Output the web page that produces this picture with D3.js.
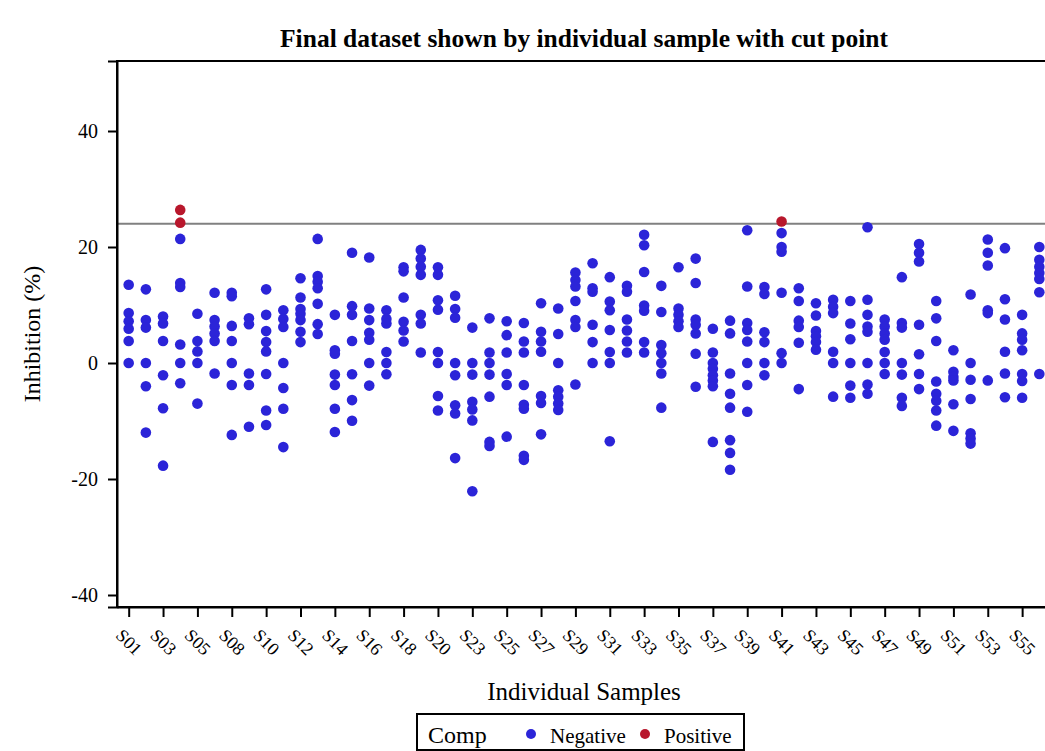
<!DOCTYPE html>
<html>
<head>
<meta charset="utf-8">
<script src="https://cdn.jsdelivr.net/npm/d3@7"></script>
<style>
  html, body { margin: 0; padding: 0; background: #fff; overflow: hidden; }
  svg { display: block; font-family: "Liberation Serif", "Times New Roman", serif; }
</style>
</head>
<body>
<svg id="chart" width="1170" height="751"></svg>
<script>
// Samples on the x axis (one column of replicate measurements each)
const samples = [
  "S01","S02","S03","S04","S05","S06","S08","S09","S10","S11","S12","S13","S14","S15",
  "S16","S17","S18","S19","S20","S21","S23","S24","S25","S26","S27","S28","S29","S30",
  "S31","S32","S33","S34","S35","S36","S37","S38","S39","S40","S41","S42","S43","S44",
  "S45","S46","S47","S48","S49","S50","S51","S52","S53","S54","S55","S56"
];

// Inhibition (%) replicates per sample, same order as `samples`
const inhibition = [
  [13.5, 8.6, 7.2, 5.9, 3.8, 0],
  [12.7, 7.4, 6.1, 0, -4.0, -12.0],
  [8.0, 6.8, 3.8, -2.1, -7.8, -17.7],
  [26.4, 24.2, 21.4, 13.8, 13.1, 3.2, 0, -3.5],
  [8.5, 3.8, 2.0, 0, -7.0],
  [12.1, 7.4, 6.3, 5.1, 3.8, -1.8],
  [12.1, 11.5, 6.4, 3.8, 0, -3.8, -12.4],
  [7.7, 6.7, -1.8, -3.8, -11.0],
  [12.7, 8.3, 5.5, 3.6, 2.0, -1.9, -8.2, -10.7],
  [9.1, 7.6, 6.2, 0, -4.3, -7.9, -14.5],
  [14.6, 11.3, 9.3, 8.5, 7.4, 5.4, 3.6],
  [21.4, 15.0, 14.0, 12.9, 10.2, 6.7, 5.0],
  [8.3, 2.2, 1.6, -2.0, -3.8, -7.9, -11.9],
  [19.0, 9.8, 8.3, 3.8, -1.95, -6.4, -9.95],
  [18.2, 9.4, 7.4, 5.2, 4.0, 0, -3.9],
  [9.1, 7.6, 6.8, 1.9, 0, -1.95],
  [16.5, 15.8, 11.3, 7.1, 5.6, 3.7],
  [19.5, 18.0, 16.6, 15.2, 8.3, 6.8, 1.8],
  [16.5, 15.2, 10.8, 9.2, 1.9, 0, -5.7, -8.2],
  [11.6, 9.3, 7.8, 0, -2.1, -7.3, -8.7, -16.4],
  [6.1, 0, -2.0, -6.7, -8.0, -9.9, -22.1],
  [7.7, 1.8, 0, -2.0, -5.8, -13.6, -14.3],
  [7.2, 4.8, 1.8, -1.9, -3.8, -12.7],
  [6.9, 3.7, 1.8, -3.8, -7.2, -7.9, -16.0, -16.7],
  [10.3, 5.4, 3.7, 1.95, -5.7, -6.9, -12.3],
  [9.4, 5.0, 0, -4.7, -5.8, -7.0, -8.1],
  [15.6, 14.3, 13.2, 10.7, 7.4, 6.2, -3.7],
  [17.2, 12.9, 12.3, 6.6, 3.6, 0],
  [14.8, 10.6, 9.1, 5.7, 1.9, 0, -13.5],
  [13.3, 12.3, 7.5, 5.6, 3.7, 1.8],
  [22.1, 20.3, 15.7, 9.9, 9.0, 3.6, 1.8],
  [13.3, 8.8, 3.1, 1.7, 0, -1.8, -7.7],
  [16.5, 9.4, 8.3, 7.2, 6.2],
  [18.0, 13.8, 7.5, 6.6, 5.1, 1.6, -4.1],
  [5.9, 1.8, 0, -1.0, -2.1, -3.0, -4.0, -13.6],
  [7.3, 5.1, -1.8, -5.3, -7.7, -13.3, -15.5, -18.4],
  [22.9, 13.2, 6.9, 5.7, 3.7, 0, -3.8, -8.4],
  [13.1, 11.9, 5.3, 3.6, 0, -2.1],
  [24.4, 22.4, 20.0, 19.2, 12.1, 1.7, 0],
  [12.9, 10.7, 7.3, 6.2, 3.5, -4.5],
  [10.3, 8.2, 5.5, 4.6, 3.6, 2.3],
  [10.9, 9.7, 8.6, 1.95, 0, -5.8],
  [10.7, 6.8, 4.1, 0, -3.9, -6.0],
  [23.4, 10.9, 8.3, 6.3, 5.4, 0, -3.7, -5.3],
  [7.5, 6.3, 5.1, 4.0, 1.9, 0, -1.9],
  [14.8, 6.9, 6.1, 0, -2.0, -6.0, -7.4],
  [20.5, 19.0, 17.5, 6.6, 1.5, -1.9, -4.5],
  [10.7, 7.7, 3.8, -3.2, -5.3, -6.5, -8.2, -10.8],
  [2.2, -1.5, -2.4, -3.0, -7.1, -11.7],
  [11.8, 0, -2.9, -6.2, -12.1, -13.0, -13.9],
  [21.3, 19.0, 16.8, 9.1, 8.6, -3.0],
  [19.8, 11.0, 7.5, 1.95, -1.8, -5.9],
  [8.3, 5.1, 4.0, 2.2, -1.9, -3.1, -6.0],
  [20.0, 17.8, 16.6, 15.5, 14.5, 12.2, -1.9]
];

const cutPoint = 24;
const yTicks = [-40, -20, 0, 20, 40];
const yDomain = [-42.07, 52.07];
const compLabels = ["Negative", "Positive"];
const compColors = ["#2b24d8", "#b8172c"];

// Long format: one record per measurement, classified against the cut point
const points = [];
samples.forEach((s, i) => {
  inhibition[i].forEach(v => {
    points.push({ sample: s, value: v, comp: v > cutPoint ? "Positive" : "Negative" });
  });
});

const svg = d3.select("#chart");
const plot = { left: 117, right: 1051, top: 61, bottom: 607 };
const serif = "Liberation Serif, Times New Roman, serif";

const x = d3.scalePoint()
  .domain(samples)
  .range([plot.left, plot.right])
  .padding(0.68);

const y = d3.scaleLinear()
  .domain(yDomain)
  .range([plot.bottom, plot.top]);

const color = d3.scaleOrdinal().domain(compLabels).range(compColors);

// Title
svg.append("text")
  .attr("x", (plot.left + plot.right) / 2)
  .attr("y", 47)
  .attr("text-anchor", "middle")
  .attr("font-size", 25.5)
  .attr("font-weight", "bold")
  .attr("font-family", serif)
  .attr("fill", "#000")
  .text("Final dataset shown by individual sample with cut point");

// Cut point reference line
svg.append("line")
  .attr("x1", plot.left).attr("x2", plot.right)
  .attr("y1", y(cutPoint)).attr("y2", y(cutPoint))
  .attr("stroke", "#808080")
  .attr("stroke-width", 2);

// Measurements
svg.append("g")
  .selectAll("circle")
  .data(points.slice().sort((a, b) => (a.comp === "Positive") - (b.comp === "Positive")))
  .join("circle")
  .attr("cx", d => x(d.sample))
  .attr("cy", d => y(d.value))
  .attr("r", 5.3)
  .attr("fill", d => color(d.comp));

// Plot frame
svg.append("rect")
  .attr("x", plot.left).attr("y", plot.top)
  .attr("width", plot.right - plot.left)
  .attr("height", plot.bottom - plot.top)
  .attr("fill", "none")
  .attr("stroke", "#000")
  .attr("stroke-width", 2);

// Y axis (plain hyphen for negative numbers)
const yAxis = svg.append("g")
  .attr("transform", `translate(${plot.left},0)`)
  .call(d3.axisLeft(y).tickValues(yTicks).tickSize(9).tickPadding(10)
    .tickFormat(d => String(d)));
yAxis.select(".domain").attr("stroke-width", 2);
yAxis.selectAll(".tick line").attr("stroke-width", 2);
yAxis.selectAll(".tick text")
  .attr("font-size", 20)
  .attr("font-family", serif)
  .attr("fill", "#000");

// X axis (every other sample labelled)
const xAxis = svg.append("g")
  .attr("transform", `translate(0,${plot.bottom})`)
  .call(d3.axisBottom(x).tickValues(samples.filter((d, i) => i % 2 === 0)).tickSize(10).tickSizeOuter(0));
xAxis.select(".domain").attr("stroke-width", 2);
xAxis.selectAll(".tick line").attr("stroke-width", 2);
xAxis.selectAll(".tick text")
  .attr("font-size", 18)
  .attr("font-family", serif)
  .attr("fill", "#000")
  .attr("y", 0)
  .attr("dy", "0.35em")
  .attr("text-anchor", "middle")
  .attr("transform", "translate(0,35) rotate(45)");

// Axis titles
svg.append("text")
  .attr("x", (plot.left + plot.right) / 2)
  .attr("y", 700)
  .attr("text-anchor", "middle")
  .attr("font-size", 25)
  .attr("font-family", serif)
  .attr("fill", "#000")
  .text("Individual Samples");

svg.append("text")
  .attr("transform", `translate(40,${(plot.top + plot.bottom) / 2}) rotate(-90)`)
  .attr("text-anchor", "middle")
  .attr("font-size", 24)
  .attr("font-family", serif)
  .attr("fill", "#000")
  .text("Inhibition (%)");

// Legend
const legend = svg.append("g").attr("transform", "translate(417,714)");
legend.append("rect")
  .attr("width", 327).attr("height", 36)
  .attr("fill", "#fff")
  .attr("stroke", "#000")
  .attr("stroke-width", 2);
legend.append("text")
  .attr("x", 11).attr("y", 29)
  .attr("font-size", 24)
  .attr("font-family", serif)
  .attr("fill", "#000")
  .text("Comp");
const entryX = [114, 228];
compLabels.forEach((lab, i) => {
  legend.append("circle")
    .attr("cx", entryX[i]).attr("cy", 20)
    .attr("r", 5)
    .attr("fill", color(lab));
  legend.append("text")
    .attr("x", entryX[i] + 19).attr("y", 29)
    .attr("font-size", 21)
    .attr("font-family", serif)
    .attr("fill", "#000")
    .text(lab);
});
</script>
</body>
</html>
